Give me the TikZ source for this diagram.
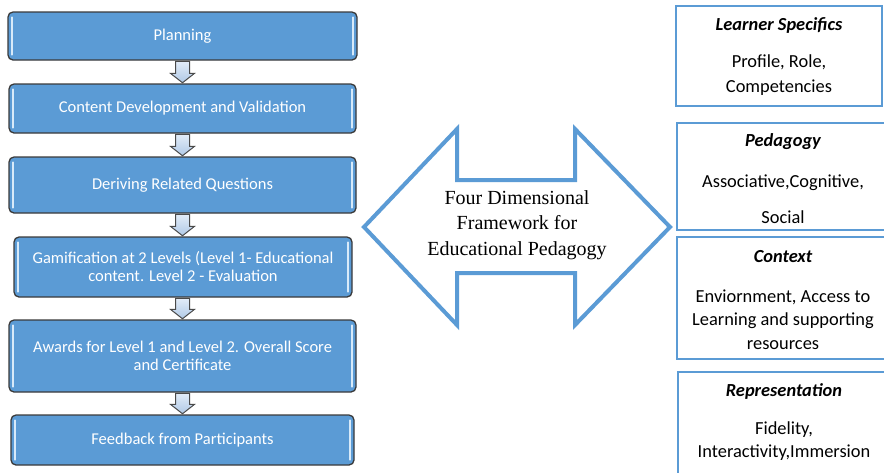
\documentclass[tikz,border=0pt]{standalone}
\usepackage{fontspec}
\setmainfont{Carlito}
\newfontfamily\timesf{Liberation Serif}
\usetikzlibrary{calc}
\definecolor{boxblue}{HTML}{5B9BD5}
\definecolor{boxedge}{HTML}{3A3A3A}
\definecolor{hilite}{HTML}{D8EAF9}
\definecolor{arrtop}{HTML}{E2ECF8}
\definecolor{arrbot}{HTML}{B0C9E6}
\definecolor{arredge}{HTML}{4A4A4A}
\begin{document}
\begin{tikzpicture}[x=1pt,y=-1pt,
  stepnode/.style={draw=boxedge, line width=1.3pt, fill=boxblue, rounded corners=5pt,
    text=white, font=\fontsize{16.5}{18}\selectfont, align=center, inner sep=0pt},
  hl/.style={draw=hilite, line width=2.2pt, line cap=round},
  downarr/.style={draw=arredge, line width=1pt, line join=miter, top color=arrtop, bottom color=arrbot},
  dblarr/.style={draw=boxblue, line width=4pt, line join=miter, fill=white},
  rbox/.style={draw=boxblue, line width=2.5pt, fill=white, inner sep=0pt},
  rtitle/.style={font=\fontsize{18.4}{23}\selectfont\bfseries\itshape, inner sep=0pt},
  rbody/.style={align=center, inner sep=0pt}
]
\useasboundingbox (0,0) rectangle (884,472);
\clip (0,0) rectangle (884,472);

% left process boxes
\node[stepnode, minimum width=349pt, minimum height=48pt] (s1) at (182.5,36) {Planning};
\node[stepnode, minimum width=347pt, minimum height=49pt] (s2) at (182.5,108.5) {Content Development and Validation};
\node[stepnode, minimum width=347pt, minimum height=56pt] (s3) at (182.5,185) {Deriving Related Questions};
\node[stepnode, minimum width=338pt, minimum height=60pt] (s4) at (183,267) {Gamification at 2 Levels (Level 1- Educational\\content. Level 2 - Evaluation};
\node[stepnode, minimum width=347pt, minimum height=72pt] (s5) at (182.5,356) {Awards for Level 1 and Level 2. Overall Score\\and Certificate};
\node[stepnode, minimum width=343pt, minimum height=50pt] (s6) at (182.5,440) {Feedback from Participants};

\foreach \s in {s1,s2,s3,s4,s5,s6}{
  \draw[hl] ($(\s.north west)+(5pt,-6pt)$) -- ($(\s.south west)+(5pt,6pt)$);
  \draw[hl] ($(\s.north east)+(-5pt,-6pt)$) -- ($(\s.south east)+(-5pt,6pt)$);
}

% down arrows
\foreach \a/\b in {s1/s2,s2/s3,s3/s4,s4/s5,s5/s6}{
  \draw[downarr] let \p1=(\a.south), \p2=(\b.north) in
    (182.5pt-7pt,\y1-0.8pt) -- (182.5pt+7pt,\y1-0.8pt) -- (182.5pt+7pt,\y2+10pt)
    -- (182.5pt+12pt,\y2+10pt) -- (182.5pt,\y2+0.6pt) -- (182.5pt-12pt,\y2+10pt)
    -- (182.5pt-7pt,\y2+10pt) -- cycle;
}

% double arrow
\draw[dblarr] (364,227) -- (457,129) -- (457,180) -- (575,180) -- (575,129)
  -- (670,227) -- (575,325) -- (575,273) -- (457,273) -- (457,325) -- cycle;
\node[font=\timesf\fontsize{20}{25.5}\selectfont, align=center, inner sep=0pt] (fw) at (517,225)
  {Four Dimensional\\Framework for\\Educational Pedagogy};

% right boxes
\node[rbox, minimum width=206pt, minimum height=100pt] (r1) at (779,56) {};
\node[rbox, minimum width=213pt, minimum height=107pt] (r2) at (783.5,176.5) {};
\node[rbox, minimum width=213pt, minimum height=122pt] (r3) at (783.5,298) {};
\node[rbox, minimum width=212pt, minimum height=110pt] (r4) at (784,427) {};

\node[rtitle] (t1) at (779,25) {Learner Specifics};
\node[rbody, font=\fontsize{18.4}{25}\selectfont] (d1) at (779,75.5) {Profile, Role,\\Competencies};
\node[rtitle] (t2) at (783,142) {Pedagogy};
\node[rbody, font=\fontsize{18.4}{36}\selectfont] (d2) at (783,199) {Associative,Cognitive,\\Social};
\node[rtitle] (t3) at (783,257) {Context};
\node[rbody, font=\fontsize{18.4}{23.5}\selectfont] (d3) at (783,319.5) {Enviornment, Access to\\Learning and supporting\\resources};
\node[rtitle] (t4) at (784,391) {Representation};
\node[rbody, font=\fontsize{18.4}{23}\selectfont] (d4) at (784,441.5) {Fidelity,\\Interactivity,Immersion};
\end{tikzpicture}
\end{document}
